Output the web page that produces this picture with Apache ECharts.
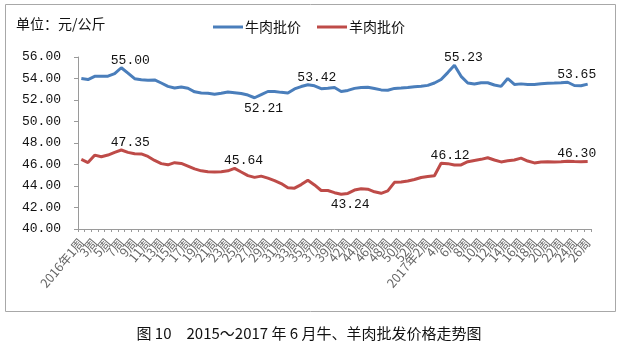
<!DOCTYPE html>
<html>
<head>
<meta charset="utf-8">
<script src="https://cdn.jsdelivr.net/npm/echarts@6/dist/echarts.min.js"></script>
<style>
	html, body { margin: 0; padding: 0; background: #fff; }
	#chart { width: 618px; height: 353px; }
</style>
</head>
<body>
<div id="chart"></div>
<script>
// 周次（2016年缺第40周）
var weeks2016 = [1, 2, 3, 4, 5, 6, 7, 8, 9, 10, 11, 12, 13, 14, 15, 16, 17, 18, 19, 20,
	21, 22, 23, 24, 25, 26, 27, 28, 29, 30, 31, 32, 33, 34, 35, 36, 37, 38, 39,
	41, 42, 43, 44, 45, 46, 47, 48, 49, 50, 51, 52];
var weeks2017 = [1, 2, 3, 4, 5, 6, 7, 8, 9, 10, 11, 12, 13, 14, 15, 16, 17, 18, 19, 20,
	21, 22, 23, 24, 25, 26];

// 牛肉批价
var beefPrice = [54.00, 53.90, 54.20, 54.20, 54.22, 54.45, 55.00, 54.50, 53.98, 53.88,
	53.84, 53.87, 53.58, 53.27, 53.11, 53.20, 53.09, 52.76, 52.66, 52.63,
	52.54, 52.62, 52.74, 52.67, 52.60, 52.46, 52.21, 52.50, 52.79, 52.78,
	52.71, 52.65, 53.03, 53.25, 53.42, 53.32, 53.05, 53.09, 53.17, 52.79,
	52.89, 53.08, 53.17, 53.19, 53.07, 52.94, 52.91, 53.08, 53.11, 53.16,
	53.24, 53.27, 53.36, 53.58, 53.91, 54.55, 55.23, 54.20, 53.58, 53.48,
	53.60, 53.60, 53.40, 53.27, 54.00, 53.45, 53.50, 53.45, 53.44, 53.52,
	53.56, 53.57, 53.60, 53.65, 53.35, 53.32, 53.48];

// 羊肉批价
var muttonPrice = [46.47, 46.18, 46.87, 46.72, 46.88, 47.13, 47.35, 47.13, 47.00, 46.98,
	46.75, 46.38, 46.08, 45.97, 46.17, 46.10, 45.85, 45.59, 45.41, 45.32,
	45.30, 45.33, 45.41, 45.64, 45.30, 44.97, 44.80, 44.92, 44.73, 44.50,
	44.23, 43.84, 43.80, 44.13, 44.54, 44.10, 43.58, 43.58, 43.38, 43.24,
	43.31, 43.62, 43.75, 43.70, 43.46, 43.32, 43.55, 44.34, 44.38, 44.46,
	44.60, 44.79, 44.88, 44.95, 46.12, 46.08, 45.95, 45.96, 46.26, 46.38,
	46.48, 46.63, 46.42, 46.24, 46.34, 46.42, 46.59, 46.32, 46.15, 46.23,
	46.26, 46.24, 46.25, 46.30, 46.27, 46.26, 46.28];

// 标注数值的点
var beefMarks = [6, 26, 34, 56, 73];
var beefBelow = [26];
var muttonMarks = [6, 23, 39, 54, 73];
var muttonBelow = [39];

var yTicks = [40, 42, 44, 46, 48, 50, 52, 54, 56];

var categories = [];
for(var i = 0; i < weeks2016.length; i++) {
	categories.push(i === 0 ? '2016年' + weeks2016[i] + '周' : weeks2016[i] + '周');
}
for(var i = 0; i < weeks2017.length; i++) {
	categories.push(weeks2017[i] <= 2 ? '2017年' + weeks2017[i] + '周' : weeks2017[i] + '周');
}

var monoFont = '"Liberation Mono", monospace';
var cnFont = '"Noto Sans CJK SC", sans-serif';

//把需要标注的点加上label，其余点不画
function buildData(values, marks, below) {
	var res = [];
	for(var i = 0; i < values.length; i++) {
		if(marks.indexOf(i) >= 0) {
			var isBelow = below.indexOf(i) >= 0;
			res.push({
				value: values[i],
				label: {
					show: true,
					position: isBelow ? 'bottom' : 'top',
					distance: isBelow ? 4 : 1,
					offset: [9, 0],
					formatter: values[i].toFixed(2),
					color: '#111',
					fontSize: 13,
					fontFamily: monoFont
				}
			});
		} else {
			res.push(values[i]);
		}
	}
	return res;
}

var chart = echarts.init(document.getElementById('chart'));

var option = {
	backgroundColor: '#fff',
	animation: false,
	title: [{
		text: '单位：元/公斤',
		left: 16,
		top: 17,
		padding: 0,
		textStyle: {
			fontSize: 14,
			fontWeight: 'normal',
			color: '#111',
			fontFamily: cnFont
		}
	}, {
		text: '图 10　2015～2017 年 6 月牛、羊肉批发价格走势图',
		left: 'center',
		top: 326,
		padding: 0,
		textStyle: {
			fontSize: 15,
			fontWeight: 'normal',
			color: '#111',
			fontFamily: cnFont
		}
	}],
	legend: {
		left: 213,
		top: 20,
		padding: 0,
		icon: 'rect',
		itemWidth: 30,
		itemHeight: 3,
		itemGap: 16,
		textStyle: {
			fontSize: 14,
			color: '#111',
			fontFamily: cnFont,
			padding: [0, 0, 0, -3]
		},
		data: ['牛肉批价', '羊肉批价']
	},
	graphic: [{
		type: 'rect',
		shape: { x: 5.5, y: 4.5, width: 610, height: 307 },
		style: { fill: 'none', stroke: '#a8a8a8', lineWidth: 1 },
		silent: true
	}],
	grid: {
		left: 78,
		right: 27,
		top: 57,
		bottom: 124,
		containLabel: false
	},
	xAxis: {
		type: 'category',
		data: categories,
		boundaryGap: true,
		axisLine: { lineStyle: { color: '#9a9a9a', width: 1 } },
		axisTick: { show: true, interval: 0, length: 3, lineStyle: { color: '#9a9a9a' } },
		axisLabel: {
			interval: 0,
			rotate: 50,
			margin: 11,
			fontSize: 12.5,
			color: '#666',
			fontFamily: cnFont,
			//隔一个显示一个
			formatter: function(value, index) {
				return index % 2 === 0 ? value : '';
			}
		},
		splitLine: { show: false }
	},
	yAxis: {
		type: 'value',
		min: yTicks[0],
		max: yTicks[yTicks.length - 1],
		interval: 2,
		axisLine: { show: true, lineStyle: { color: '#9a9a9a', width: 1 } },
		axisTick: { show: true, length: 4, lineStyle: { color: '#9a9a9a' } },
		axisLabel: {
			margin: 17,
			fontSize: 13,
			color: '#111',
			fontFamily: monoFont,
			formatter: function(v) {
				return v.toFixed(2);
			}
		},
		splitLine: { show: false }
	},
	series: [{
		name: '牛肉批价',
		type: 'line',
		symbol: 'circle',
		symbolSize: 0,
		showSymbol: true,
		lineStyle: { color: '#4a7ebb', width: 3 },
		itemStyle: { color: '#4a7ebb' },
		data: buildData(beefPrice, beefMarks, beefBelow)
	}, {
		name: '羊肉批价',
		type: 'line',
		symbol: 'circle',
		symbolSize: 0,
		showSymbol: true,
		lineStyle: { color: '#be4b48', width: 3 },
		itemStyle: { color: '#be4b48' },
		data: buildData(muttonPrice, muttonMarks, muttonBelow)
	}]
};

chart.setOption(option);
</script>
</body>
</html>
